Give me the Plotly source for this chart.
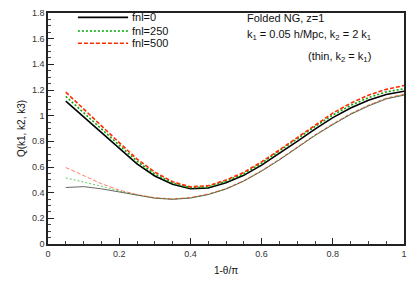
import plotly.graph_objects as go

x = [0.05, 0.10, 0.15, 0.20, 0.25, 0.30, 0.35, 0.40, 0.45, 0.50,
     0.55, 0.60, 0.65, 0.70, 0.75, 0.80, 0.85, 0.90, 0.95, 1.00]

# thick curves: k2 = 2 k1
thick_fnl0 = [1.113, 0.99, 0.87, 0.745, 0.625, 0.53, 0.465, 0.43, 0.436, 0.478,
              0.535, 0.615, 0.705, 0.80, 0.895, 0.985, 1.06, 1.12, 1.165, 1.19]
thick_fnl250 = [1.150, 1.02, 0.897, 0.770, 0.645, 0.545, 0.476, 0.438, 0.445, 0.488,
                0.547, 0.630, 0.722, 0.820, 0.915, 1.005, 1.080, 1.140, 1.185, 1.210]
thick_fnl500 = [1.183, 1.05, 0.92, 0.790, 0.662, 0.560, 0.485, 0.445, 0.454, 0.498,
                0.558, 0.640, 0.733, 0.830, 0.928, 1.020, 1.097, 1.160, 1.205, 1.235]

# thin curves: k2 = k1
thin_fnl0 = [0.44, 0.447, 0.43, 0.405, 0.378, 0.357, 0.348, 0.358, 0.385, 0.428,
             0.49, 0.568, 0.655, 0.75, 0.845, 0.93, 1.01, 1.075, 1.13, 1.16]
thin_fnl250 = [0.515, 0.485, 0.45, 0.413, 0.382, 0.359, 0.350, 0.360, 0.387, 0.430,
               0.492, 0.570, 0.658, 0.753, 0.848, 0.934, 1.014, 1.079, 1.134, 1.164]
thin_fnl500 = [0.596, 0.53, 0.47, 0.42, 0.385, 0.361, 0.351, 0.362, 0.389, 0.432,
               0.494, 0.573, 0.661, 0.756, 0.851, 0.937, 1.017, 1.082, 1.137, 1.168]

x_ticks = [0, 0.2, 0.4, 0.6, 0.8, 1]
x_tick_labels = ["0", "0.2", "0.4", "0.6", "0.8", "1"]
y_ticks = [0, 0.2, 0.4, 0.6, 0.8, 1, 1.2, 1.4, 1.6, 1.8]
y_tick_labels = ["0", "0.2", "0.4", "0.6", "0.8", "1", "1.2", "1.4", "1.6", "1.8"]

legend_labels = ["fnl=0", "fnl=250", "fnl=500"]
colors = ["#000000", "#00a800", "#ff2a00"]
dashes = ["solid", "2px,2px", "4px,2px"]

FONT = "Liberation Sans, Arial, Helvetica, sans-serif"

fig = go.Figure()

for ys, c, d in zip([thin_fnl0, thin_fnl250, thin_fnl500], colors, dashes):
    fig.add_trace(go.Scatter(x=x, y=ys, mode="lines", showlegend=False,
                             line=dict(color=c, width=0.8, dash=d), opacity=0.75))
for ys, c, d, name in zip([thick_fnl0, thick_fnl250, thick_fnl500], colors, dashes, legend_labels):
    fig.add_trace(go.Scatter(x=x, y=ys, mode="lines", name=name, showlegend=False,
                             line=dict(color=c, width=1.6, dash=d)))

# manual legend
leg_y = [0.981, 0.922, 0.869]
for name, c, d, yy in zip(legend_labels, colors, dashes, leg_y):
    fig.add_shape(type="line", xref="paper", yref="paper", x0=0.084, x1=0.225, y0=yy, y1=yy,
                  line=dict(color=c, width=1.6, dash=d))
    fig.add_annotation(xref="paper", yref="paper", x=0.230, y=yy, text=name, showarrow=False,
                       xanchor="left", yanchor="middle", font=dict(size=11, color="#111", family=FONT))

fig.add_annotation(xref="paper", yref="paper", x=0.553, y=0.977, text="Folded NG, z=1",
                   showarrow=False, xanchor="left", yanchor="middle",
                   font=dict(size=11, color="#111", family=FONT))
fig.add_annotation(xref="paper", yref="paper", x=0.553, y=0.905,
                   text="k<sub>1</sub> = 0.05 h/Mpc, k<sub>2</sub> = 2 k<sub>1</sub>",
                   showarrow=False, xanchor="left", yanchor="middle",
                   font=dict(size=11, color="#111", family=FONT))
fig.add_annotation(xref="paper", yref="paper", x=0.725, y=0.810,
                   text="(thin, k<sub>2</sub> = k<sub>1</sub>)",
                   showarrow=False, xanchor="left", yanchor="middle",
                   font=dict(size=11, color="#111", family=FONT))

axis_common = dict(showgrid=False, zeroline=False, showline=True, mirror=True,
                   linecolor="#222", linewidth=1.5, ticks="inside", ticklen=6,
                   tickwidth=1.3, tickcolor="#222", tickmode="array",
                   ticklabeloverflow="allow",
                   tickfont=dict(size=9, color="#333", family=FONT))

fig.update_xaxes(range=[0, 1], tickvals=x_ticks, ticktext=x_tick_labels,
                 minor=dict(dtick=0.05, tick0=0, ticks="inside", ticklen=3, tickcolor="#444", tickwidth=1),
                 title=dict(text="1-θ/π", font=dict(size=10, color="#111", family=FONT), standoff=9),
                 **axis_common)
fig.update_yaxes(range=[0, 1.8], tickvals=y_ticks, ticktext=y_tick_labels,
                 minor=dict(dtick=0.05, tick0=0, ticks="inside", ticklen=3, tickcolor="#444", tickwidth=1),
                 title=dict(text="Q(k1, k2, k3)", font=dict(size=10, color="#111", family=FONT), standoff=4),
                 **axis_common)

# the page body adds an 8px offset, so the figure is sized/margined to compensate
fig.update_layout(width=399, height=277, margin=dict(l=40, r=3, t=5, b=41, autoexpand=False),
                  paper_bgcolor="white", plot_bgcolor="white", showlegend=False)

fig.write_html("out.html")
